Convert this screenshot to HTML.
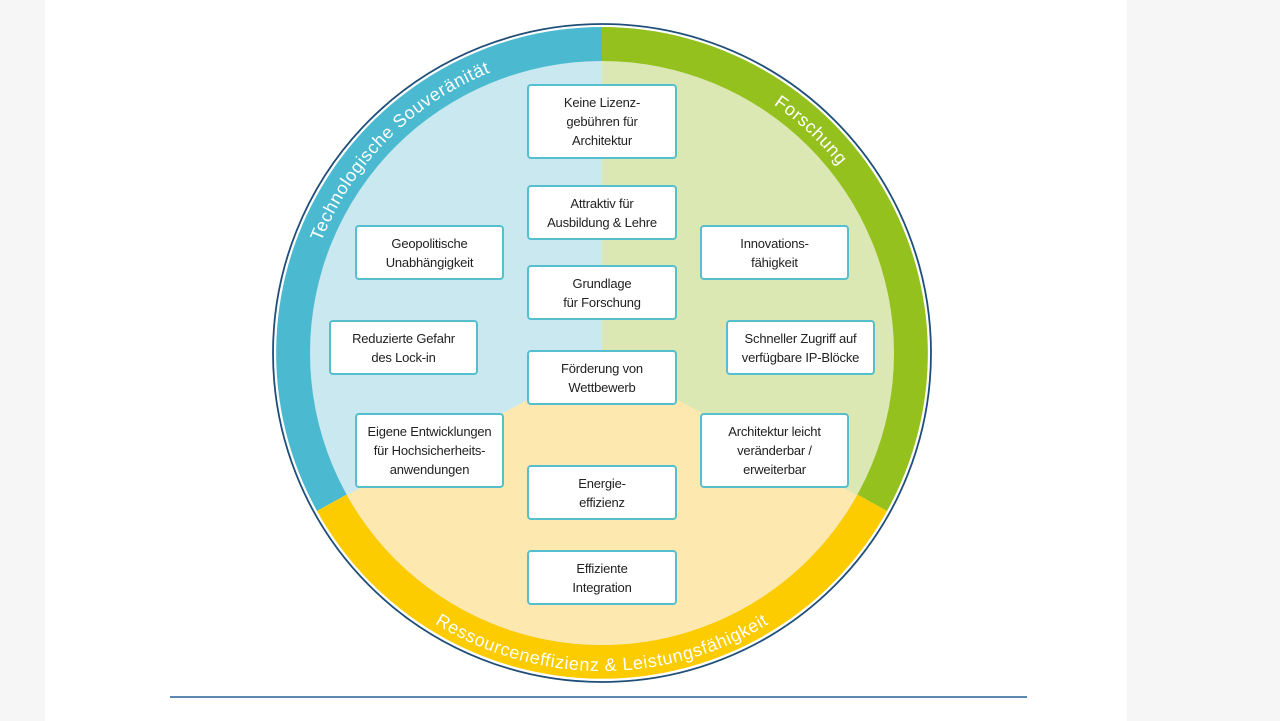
<!DOCTYPE html>
<html><head><meta charset="utf-8"><style>
html,body{margin:0;padding:0;}
body{width:1280px;height:721px;position:relative;background:#fff;overflow:hidden;font-family:"Liberation Sans",sans-serif;}
.side{position:absolute;top:0;height:721px;background:#f6f6f6;}
svg{position:absolute;left:0;top:0;}
.b{position:absolute;box-sizing:border-box;background:#fff;border:2px solid #55bfcf;border-radius:4px;display:flex;align-items:center;justify-content:center;text-align:center;font-size:13px;line-height:19px;color:#222;letter-spacing:-0.2px;}
</style></head><body>
<div class="side" style="left:0;width:45px"></div>
<div class="side" style="left:1127px;width:153px"></div>
<svg width="1280" height="721" viewBox="0 0 1280 721">
<defs>
<clipPath id="inner"><circle cx="602" cy="353" r="292"/></clipPath>
<path id="pL" d="M 300 353 A 302 302 0 0 1 602 51"/>
<path id="pR" d="M 602 51 A 302 302 0 0 1 904 353"/>
<path id="pB" d="M 284 353 A 318 318 0 0 0 920 353"/>
</defs>
<circle cx="602" cy="353" r="329" fill="#fff" stroke="#1f4e79" stroke-width="1.8"/>
<path d="M602 353 L602 27 A326 326 0 0 0 317 511 Z" fill="#4bbad0"/>
<path d="M602 353 L602 27 A326 326 0 0 1 887 511 Z" fill="#95c11f"/>
<path d="M602 353 L317 511 A326 326 0 0 0 887 511 Z" fill="#fccb00"/>
<g clip-path="url(#inner)">
<rect x="290" y="40" width="312" height="620" fill="#c9e8ef"/>
<rect x="602" y="40" width="312" height="620" fill="#dbe8b4"/>
<polygon points="250,545 300,520 347,495 535,396 670,396 857,495 900,520 960,545 960,700 250,700" fill="#fde9b0"/>
</g>
<g fill="#fff" font-family="Liberation Sans, sans-serif" font-size="18" letter-spacing="0.6">
<text><textPath href="#pL" startOffset="50%" text-anchor="middle">Technologische Souveränität</textPath></text>
<text><textPath href="#pR" startOffset="48%" text-anchor="middle">Forschung</textPath></text>
<text><textPath href="#pB" startOffset="50%" text-anchor="middle">Ressourceneffizienz &amp; Leistungsfähigkeit</textPath></text>
</g>
<line x1="170" y1="697" x2="1027" y2="697" stroke="#5b87b0" stroke-width="2"/>
</svg>
<div class="b" style="left:527px;top:84px;width:150px;height:75px">Keine Lizenz-<br>gebühren für<br>Architektur</div>
<div class="b" style="left:527px;top:185px;width:150px;height:55px">Attraktiv für<br>Ausbildung &amp; Lehre</div>
<div class="b" style="left:527px;top:265px;width:150px;height:55px">Grundlage<br>für Forschung</div>
<div class="b" style="left:527px;top:350px;width:150px;height:55px">Förderung von<br>Wettbewerb</div>
<div class="b" style="left:527px;top:465px;width:150px;height:55px">Energie-<br>effizienz</div>
<div class="b" style="left:527px;top:550px;width:150px;height:55px">Effiziente<br>Integration</div>
<div class="b" style="left:355px;top:225px;width:149px;height:55px">Geopolitische<br>Unabhängigkeit</div>
<div class="b" style="left:329px;top:320px;width:149px;height:55px">Reduzierte Gefahr<br>des Lock-in</div>
<div class="b" style="left:355px;top:413px;width:149px;height:75px">Eigene Entwicklungen<br>für Hochsicherheits-<br>anwendungen</div>
<div class="b" style="left:700px;top:225px;width:149px;height:55px">Innovations-<br>fähigkeit</div>
<div class="b" style="left:726px;top:320px;width:149px;height:55px">Schneller Zugriff auf<br>verfügbare IP-Blöcke</div>
<div class="b" style="left:700px;top:413px;width:149px;height:75px">Architektur leicht<br>veränderbar /<br>erweiterbar</div>
</body></html>
